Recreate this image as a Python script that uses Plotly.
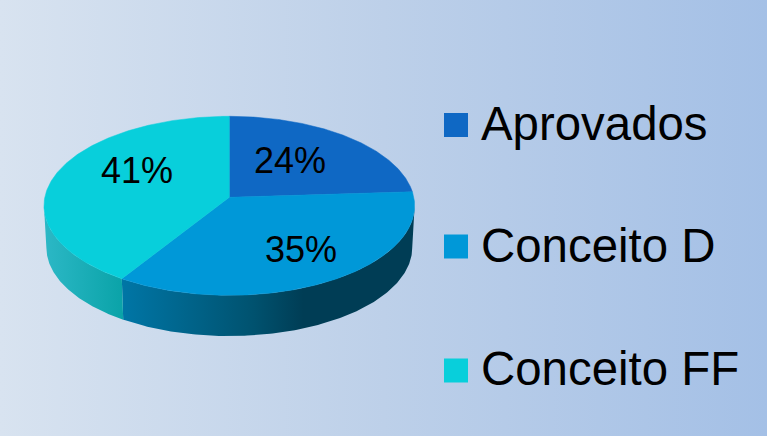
import numpy as np
import plotly.graph_objects as go

# Shares of students per outcome
categories = ["Aprovados", "Conceito D", "Conceito FF"]
shares = [24, 35, 41]
top_colors = ["#0f68c4", "#0098d8", "#08cfdb"]

# Side wall shading, left to right; the first slice has no visible wall
wall_scales = [
    None,
    [[0, "#0076a6"], [0.45, "#00526f"], [0.62, "#003d55"], [1, "#003d55"]],
    [[0, "#2cb8c6"], [1, "#0aa3a8"]],
]

# Pie label centres and legend rows, in pixels
label_xy = [(290, 160), (301, 249), (137, 170)]
legend_square_x = 456
legend_text_x = 479
legend_y = [125, 246.5, 370.5]
legend_text_y = [123, 245, 368.5]

WIDTH, HEIGHT = 767, 436

# Perspective view of the disc
CX, CY = 229.3, 197.3
RX, RY = 184.5, 88.7
PERSP = 0.095
DEPTH = 42
BASE_SCALE = 0.987


def project(theta, scale=1.0, drop=0.0):
    """Map clockwise angles from twelve o'clock to screen pixels."""
    sx, cy = np.sin(theta), np.cos(theta)
    w = 1 + PERSP * cy
    return CX + scale * RX * sx / w, CY + drop - scale * RY * cy / w


fig = go.Figure()

# Page background
fig.add_trace(go.Scatter(
    x=[0, WIDTH, WIDTH, 0, 0], y=[0, 0, HEIGHT, HEIGHT, 0],
    mode="lines", line=dict(width=0), fill="toself", hoverinfo="skip",
    fillgradient=dict(
        type="horizontal",
        colorscale=[[0, "#d8e3f0"], [0.5, "#bdd0e9"], [1, "#a4c0e6"]],
    ),
))

edges = np.cumsum([0] + shares) / sum(shares) * 2 * np.pi
front_start = np.arccos(-PERSP)
front_end = 2 * np.pi - front_start

# Side walls along the near rim of the disc
for i, scale in enumerate(wall_scales):
    a0, a1 = max(edges[i], front_start), min(edges[i + 1], front_end)
    if scale is None or a1 <= a0:
        continue
    t = np.linspace(a0, a1, 160)
    xt, yt = project(t)
    xb, yb = project(t[::-1], BASE_SCALE, DEPTH)
    fig.add_trace(go.Scatter(
        x=np.r_[xt, xb, xt[0]], y=np.r_[yt, yb, yt[0]],
        mode="lines", line=dict(width=0), fill="toself", hoverinfo="skip",
        fillgradient=dict(type="horizontal", colorscale=scale),
    ))

# Top faces of the slices
for i, color in enumerate(top_colors):
    t = np.linspace(edges[i], edges[i + 1], 240)
    x, y = project(t)
    fig.add_trace(go.Scatter(
        x=np.r_[CX, x, CX], y=np.r_[CY, y, CY],
        mode="lines", line=dict(width=0.5, color=color),
        fill="toself", fillcolor=color, hoverinfo="skip",
    ))

# Legend squares
fig.add_trace(go.Scatter(
    x=[legend_square_x] * len(categories), y=legend_y, mode="markers",
    marker=dict(symbol="square", size=24, color=top_colors, line=dict(width=0)),
    hoverinfo="skip",
))

FONT = "Liberation Sans, Arial, sans-serif"
for share, (lx, ly) in zip(shares, label_xy):
    fig.add_annotation(x=lx, y=ly, text=f"{share}%", showarrow=False,
                       xanchor="center", yanchor="middle",
                       font=dict(family=FONT, size=36, color="#000000"))
for name, ly in zip(categories, legend_text_y):
    fig.add_annotation(x=legend_text_x, y=ly, text=name, showarrow=False,
                       xanchor="left", yanchor="middle",
                       font=dict(family=FONT, size=47.4, color="#000000"))

fig.update_layout(
    width=WIDTH, height=HEIGHT,
    margin=dict(l=0, r=0, t=0, b=0, pad=0),
    showlegend=False,
    paper_bgcolor="#bdd0e9", plot_bgcolor="rgba(0,0,0,0)",
    xaxis=dict(range=[0, WIDTH], visible=False, fixedrange=True),
    yaxis=dict(range=[HEIGHT, 0], visible=False, fixedrange=True),
)

fig.write_html("out.html", config=dict(displayModeBar=False))
